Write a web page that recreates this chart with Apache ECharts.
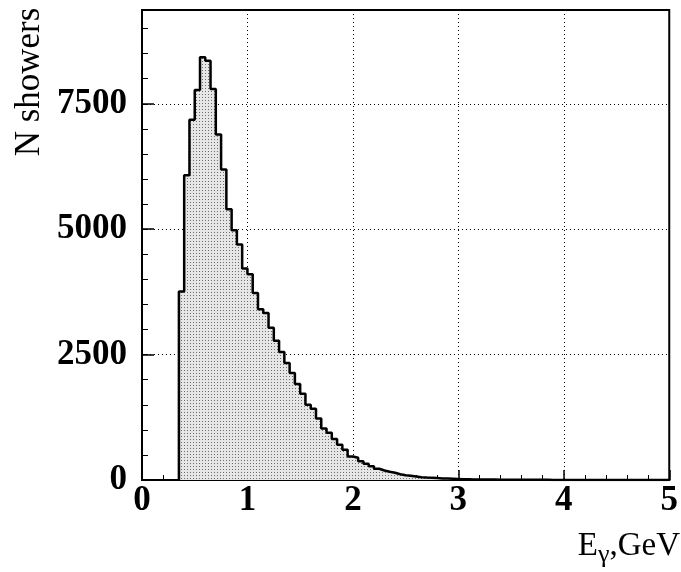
<!DOCTYPE html>
<html>
<head>
<meta charset="utf-8">
<script src="https://cdn.jsdelivr.net/npm/echarts@6/dist/echarts.min.js"></script>
<style>html,body{margin:0;padding:0;background:#fff;}#c{width:681px;height:572px;}</style>
</head>
<body>
<div id="c"></div>
<script>
// ---- data ----
var binLow = 0.35;      // GeV, lower edge of first filled bin
var binWidth = 0.05;    // GeV
var counts = [
  3760, 6078, 7182, 7774, 8427, 8359, 7794, 6890, 6192, 5399,
  4980, 4694, 4215, 4102, 3729, 3403, 3330, 3037, 2778, 2551,
  2331, 2132, 1912, 1720, 1501, 1421, 1228, 1028, 941, 815,
  702, 602, 469, 443, 376, 323, 276, 223, 190, 164,
  144, 116, 96, 84, 70, 56, 48, 44, 38, 32,
  28, 24, 20,
  16, 14, 12, 11, 10, 9, 8, 7, 6, 6,
  5, 5, 4, 4, 3, 3, 3, 2, 2, 2,
  2, 2, 1, 1, 1, 1, 1, 1, 1, 1,
  1, 1, 0, 1, 0, 0, 1, 0, 0, 0
];
var xTicks = [0, 1, 2, 3, 4, 5];
var yTicks = [0, 2500, 5000, 7500];
var xTitle = 'E{g|\u03b3},GeV';
var yTitle = 'N showers';

// ---- build step outline points ----
var pts = [[binLow, 0]];
for (var i = 0; i < counts.length; i++) {
  pts.push([+(binLow + i * binWidth).toFixed(3), counts[i]]);
}
pts.push([+(binLow + counts.length * binWidth).toFixed(3), counts[counts.length - 1]]);

// stipple pattern for the fill
var pc = document.createElement('canvas');
pc.width = 3; pc.height = 3;
var pctx = pc.getContext('2d');
pctx.fillStyle = '#e6e6e6'; pctx.fillRect(0, 0, 3, 3);
pctx.fillStyle = '#6e6e6e'; pctx.fillRect(1, 1, 1, 1);

var serif = '"Liberation Serif", "Times New Roman", serif';
var chart = echarts.init(document.getElementById('c'), null, {renderer: 'canvas'});
var gridDot = {color: '#000', width: 1, type: [1, 3]};

chart.setOption({
  animation: false,
  backgroundColor: '#fff',
  grid: {left: 142, top: 10, right: 8, bottom: 92, show: true, borderColor: '#000', borderWidth: 2, backgroundColor: 'transparent'},
  xAxis: {
    type: 'value', min: xTicks[0], max: xTicks[xTicks.length - 1], interval: 1,
    axisLine: {show: true, onZero: false, lineStyle: {color: '#000', width: 2}},
    axisTick: {show: true, inside: true, length: 10, lineStyle: {color: '#000', width: 1.5}},
    minorTick: {show: true, splitNumber: 5, length: 5, lineStyle: {color: '#000', width: 1}},
    splitLine: {show: true, lineStyle: gridDot},
    axisLabel: {color: '#000', fontFamily: serif, fontWeight: 'bold', fontSize: 35, margin: 3,
      formatter: function (v) { return xTicks.indexOf(v) >= 0 ? String(v) : ''; }}
  },
  yAxis: [{
    type: 'value', min: yTicks[0], max: 9370, interval: 2500,
    axisLine: {show: true, onZero: false, lineStyle: {color: '#000', width: 2}},
    axisTick: {show: true, inside: true, length: 12, lineStyle: {color: '#000', width: 1.5}},
    splitLine: {show: true, lineStyle: gridDot},
    axisLabel: {color: '#000', fontFamily: serif, fontWeight: 'bold', fontSize: 35, margin: 15, showMaxLabel: false,
      formatter: function (v) { return yTicks.indexOf(v) >= 0 ? String(v) : ''; }}
  }, {
    type: 'value', min: 0, max: 9370, interval: 500, position: 'left',
    axisLine: {show: false},
    axisTick: {show: true, inside: true, length: 6, lineStyle: {color: '#000', width: 1}},
    splitLine: {show: false},
    axisLabel: {show: false}
  }],
  series: [{
    type: 'line', step: 'end', yAxisIndex: 0, data: pts,
    symbol: 'none', silent: true,
    lineStyle: {color: '#000', width: 2.5},
    areaStyle: {color: {image: pc, repeat: 'repeat'}, opacity: 1}
  }],
  graphic: [
    {type: 'text', x: 30, y: 82, rotation: Math.PI / 2,
      style: {text: yTitle, font: '35px ' + serif, fill: '#000', textAlign: 'center', textVerticalAlign: 'middle'}},
    {type: 'text', x: 680, y: 524,
      style: {text: xTitle, font: '33px ' + serif, fill: '#000', textAlign: 'right', textVerticalAlign: 'top',
        rich: {g: {font: '26px ' + serif, fill: '#000', padding: [18, 0, 0, 0]}}}}
  ]
});
</script>
</body>
</html>
